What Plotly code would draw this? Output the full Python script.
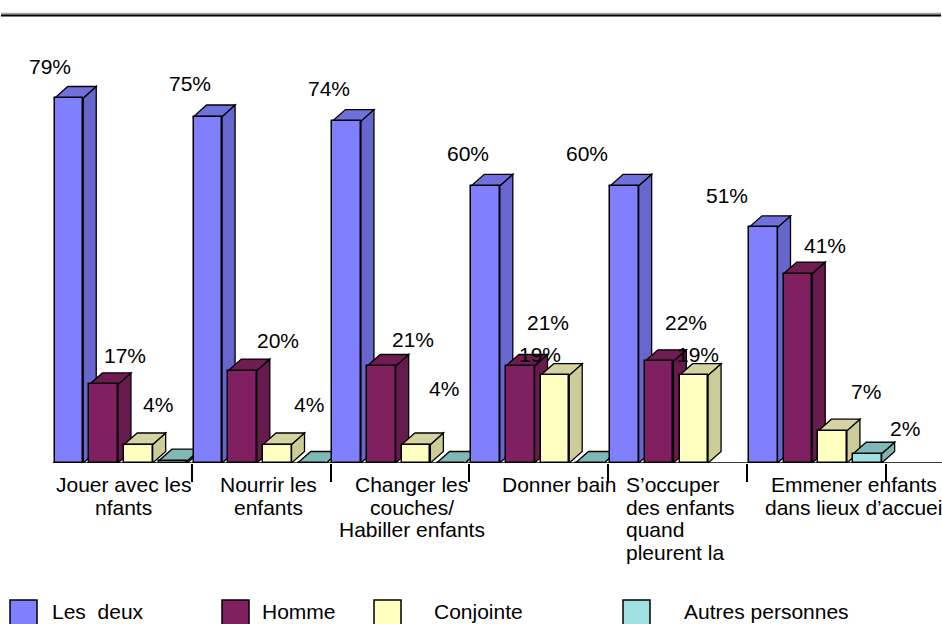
import plotly.graph_objects as go

# ---------------- data ----------------
CATEGORY_LINES = [
    ["Jouer avec les", "nfants"],
    ["Nourrir les", "enfants"],
    ["Changer les", "couches/", "Habiller enfants"],
    ["Donner bain"],
    ["S\u2019occuper", "des enfants", "quand", "pleurent la"],
    ["Emmener enfants", "dans lieux d\u2019accuei"],
]
SERIES_NAMES = ["Les\u00a0 deux", "Homme", "Conjointe", "Autres personnes"]
LES_DEUX = [79, 75, 74, 60, 60, 51]
HOMME = [17, 20, 21, 21, 22, 41]
CONJOINTE = [4, 4, 4, 19, 19, 7]
AUTRES = [0.5, 0, 0, 0, None, 2]
SERIES = [LES_DEUX, HOMME, CONJOINTE, AUTRES]

# ---------------- styles ----------------
FRONT = ["#8080ff", "#802060", "#ffffc0", "#a0e0e0"]
TOP = ["#7070dc", "#6e1c52", "#d4d4a2", "#80b8b8"]
SIDE = ["#6666cc", "#661a4d", "#cccc99", "#7fb3b3"]
LABEL_DX = [[-19, -18, -18, -18, -37, -36],
            [21, 35, 32, 28, 27, 27],
            [20, 32, 28, -15, 4, 33],
            [0, 0, 0, 0, 0, 38]]
LABEL_DY = [[32, 33, 33, 32, 32, 32],
            [29, 30, 26, 43, 39, 28],
            [40, 40, 56, 21, 21, 39],
            [25, 25, 25, 25, 25, 25]]
CAT_XSHIFT = [1, 7, 12, 20, -54, 37]
CAT_ALIGN = ["center", "center", "center", "center", "left", "center"]
LEGEND_BOX_X = [10, 222, 374, 623]
LEGEND_TEXT_X = [50, 260, 432, 682]

FONT = dict(family="Liberation Sans, Arial, sans-serif", size=21, color="black")

W, H = 942, 624
BOTTOM_MARGIN = 161
PLOT_H = H - BOTTOM_MARGIN
GROUP_PX = 138.85
GROUP0_LEFT = 52.85
PX_PER_PCT = 4.62

x_lo = (0 - GROUP0_LEFT) / GROUP_PX - 0.5
x_hi = (W - GROUP0_LEFT) / GROUP_PX - 0.5
y_hi = PLOT_H / PX_PER_PCT

BAR_W = 28.5 / GROUP_PX
DEPTH_X = 13 / GROUP_PX
DEPTH_Y = 11.5 / PX_PER_PCT


def offset(j):
    return -0.5 + (1.9 + 34.71 * j) / GROUP_PX


def py(px):
    return (PLOT_H - px) / PLOT_H


fig = go.Figure()
xs = list(range(len(LES_DEUX)))
for j, vals in enumerate(SERIES):
    fig.add_trace(go.Bar(
        x=xs, y=vals, name=SERIES_NAMES[j],
        offset=offset(j), width=BAR_W,
        marker=dict(color=FRONT[j], line=dict(color="black", width=1.5)),
        showlegend=False, hoverinfo="skip",
    ))

shapes = []
# 3D faces (side + top), drawn left to right
for i in xs:
    for j, vals in enumerate(SERIES):
        v = vals[i]
        if v is None:
            continue
        xl = i + offset(j)
        xr = xl + BAR_W
        side = (f"M {xr},0 L {xr},{v} L {xr + DEPTH_X},{v + DEPTH_Y} "
                f"L {xr + DEPTH_X},{DEPTH_Y} Z")
        top = (f"M {xl},{v} L {xr},{v} L {xr + DEPTH_X},{v + DEPTH_Y} "
               f"L {xl + DEPTH_X},{v + DEPTH_Y} Z")
        shapes.append(dict(type="path", path=side, xref="x", yref="y", layer="below",
                           fillcolor=SIDE[j], line=dict(color="black", width=1.3)))
        shapes.append(dict(type="path", path=top, xref="x", yref="y", layer="below",
                           fillcolor=TOP[j], line=dict(color="black", width=1.3)))

# floor baseline
shapes.append(dict(type="line", xref="x", yref="y", x0=-0.5, x1=x_hi, y0=0, y1=0,
                   line=dict(color="black", width=1.5)))
# top rule
shapes.append(dict(type="line", xref="paper", yref="paper", x0=0.001, x1=0.999,
                   y0=py(13.6), y1=py(13.6), line=dict(color="#a0a0a0", width=1.6)))
shapes.append(dict(type="line", xref="paper", yref="paper", x0=0.001, x1=0.999,
                   y0=py(15.5), y1=py(15.5), line=dict(color="black", width=2)))

annotations = []
# value labels
for j, vals in enumerate(SERIES):
    for i, v in enumerate(vals):
        if v is None or v < 1:
            continue
        annotations.append(dict(
            x=i + offset(j) + BAR_W / 2, y=v, xref="x", yref="y",
            text=f"{v:.0f}%", showarrow=False, font=FONT,
            xanchor="center", yanchor="middle",
            xshift=LABEL_DX[j][i], yshift=LABEL_DY[j][i],
        ))

# category labels (one annotation per line)
for i, lines in enumerate(CATEGORY_LINES):
    for k, line in enumerate(lines):
        annotations.append(dict(
            x=i, y=0, xref="x", yref="y", text=line, showarrow=False, font=FONT,
            xanchor=CAT_ALIGN[i], yanchor="middle",
            xshift=CAT_XSHIFT[i], yshift=-(21.5 + 22.7 * k),
        ))

# legend
for j, name in enumerate(SERIES_NAMES):
    bx = LEGEND_BOX_X[j]
    shapes.append(dict(type="rect", xref="paper", yref="paper",
                       x0=bx / W, x1=(bx + 27) / W, y0=py(600), y1=py(627),
                       fillcolor=FRONT[j], line=dict(color="black", width=1.5)))
    annotations.append(dict(
        x=LEGEND_TEXT_X[j] / W, y=py(611.5), xref="paper", yref="paper",
        text=name, showarrow=False, font=FONT, xanchor="left", yanchor="middle",
    ))

fig.update_layout(
    width=W, height=H,
    margin=dict(l=0, r=0, t=0, b=BOTTOM_MARGIN, pad=0),
    paper_bgcolor="white", plot_bgcolor="white",
    showlegend=False,
    shapes=shapes, annotations=annotations,
    xaxis=dict(range=[x_lo, x_hi], showgrid=False, zeroline=False, showline=False,
               tickmode="array", tickvals=[k + 0.5 for k in range(6)],
               ticks="outside", ticklen=18, tickwidth=1.5, tickcolor="black",
               showticklabels=False, fixedrange=True),
    yaxis=dict(range=[0, y_hi], showgrid=False, zeroline=False, showline=False,
               showticklabels=False, ticks="", fixedrange=True),
    bargap=0,
)

fig.write_html("out.html")
